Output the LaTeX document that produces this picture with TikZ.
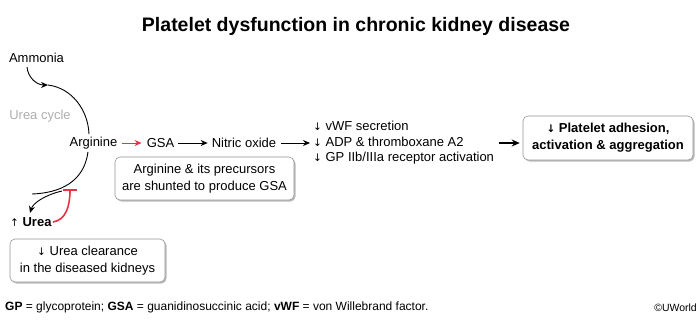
\documentclass[tikz,border=0pt]{standalone}
\usepackage{fontspec}
\setmainfont{Liberation Sans}
\newfontfamily\symfont{DejaVu Sans}
\usetikzlibrary{arrows.meta,shadows,positioning}
\definecolor{myred}{RGB}{232,50,70}
\definecolor{cyclegray}{RGB}{175,175,175}
\definecolor{boxgray}{RGB}{150,150,150}
\newcommand{\dn}{{\symfont\fontsize{10.5}{12}\selectfont ↓}}
\newcommand{\up}{{\symfont\fontsize{10.5}{12}\selectfont ↑}}
\begin{document}
\begin{tikzpicture}[x=1pt,y=-1pt,
  txt/.style={inner sep=0pt,font=\fontsize{13}{15.5}\selectfont},
  infobox/.style={draw=boxgray,line width=0.6pt,rounded corners=5pt,fill=white,align=center,
    font=\fontsize{13}{17}\selectfont,inner sep=0pt,
    drop shadow={shadow xshift=1.5pt,shadow yshift=-1.5pt,opacity=0.45,fill=black!60}},
  arr/.style={-{Stealth[length=7pt,width=6pt]},line width=0.9pt},
  curv/.style={line width=0.9pt}]
\useasboundingbox (0,0) rectangle (700,319);
\fill[white] (0,0) rectangle (700,319);
\node[inner sep=0pt,font=\fontsize{19.5}{22}\selectfont\bfseries] (title) at (356,26) {Platelet dysfunction in chronic kidney disease};
\node[txt] (ammonia) at (36.5,58) {Ammonia};
\node[txt,text=cyclegray] (cycle) at (40,116) {Urea cycle};
\node[txt] (arg) at (93.5,143) {Arginine};
\node[txt] (gsa) at (160.5,143) {GSA};
\node[txt] (no) at (244,143) {Nitric oxide};
\node[txt,anchor=west,align=left] (list) at (313,143) {\dn\ vWF secretion\\ \dn\ ADP \& thromboxane A2\\ \dn\ GP IIb/IIIa receptor activation};
\node[infobox,minimum width=170pt,minimum height=44pt,font=\fontsize{13}{17}\selectfont\bfseries] (plt) at (608,138) {\dn\ Platelet adhesion,\\activation \& aggregation};
\node[infobox,minimum width=179pt,minimum height=43pt] (shunt) at (204.5,178.5) {Arginine \& its precursors\\are shunted to produce GSA};
\node[infobox,minimum width=155pt,minimum height=43pt] (clear) at (87.5,260.5) {\dn\ Urea clearance\\in the diseased kidneys};
\node[txt,anchor=west] (urea) at (10,222) {\up\ \textbf{Urea}};
\node[inner sep=0pt,anchor=west,font=\fontsize{12}{14}\selectfont] (foot) at (5,307) {\textbf{GP} = glycoprotein; \textbf{GSA} = guanidinosuccinic acid; \textbf{vWF} = von Willebrand factor.};
\node[inner sep=0pt,anchor=east,font=\fontsize{10.5}{12}\selectfont] (uw) at (697,308) {©UWorld};
% coordinates
\coordinate (a1) at (27,67);
\coordinate (tip1) at (48,85);
\coordinate (argtop) at (89,134);
\coordinate (argbot) at (88,152);
\coordinate (stub) at (32,194);
\coordinate (branch) at (62,191);
\coordinate (tip2) at (30,213);
\coordinate (ureaend) at (53,222);
\coordinate (bar) at (70,189);
% urea cycle curves
\draw[arr] (a1) .. controls (28,78) and (37,85) .. (tip1);
\draw[curv] (tip1) .. controls (72,88) and (88,110) .. (argtop);
\draw[curv] (argbot) .. controls (84,182) and (60,193) .. (stub);
\draw[arr] (branch) .. controls (45,195) and (33,203) .. (tip2);
\draw[myred,line width=1.6pt,-{Bar[width=14pt,line width=1.6pt]}] (ureaend) .. controls (66,220) and (70,206) .. (bar);
% main chain
\draw[arr,myred] ([xshift=4pt]arg.east) -- ([xshift=-5pt]gsa.west);
\draw[arr] ([xshift=4pt]gsa.east) -- ([xshift=-4pt]no.west);
\draw[arr] ([xshift=5pt]no.east) -- ([xshift=-3pt]list.west);
\draw[-{Stealth[length=8pt,width=7pt]},line width=1.6pt] ([xshift=5pt]list.east) -- ([xshift=-3pt]list.east -| plt.west);
\end{tikzpicture}
\end{document}
